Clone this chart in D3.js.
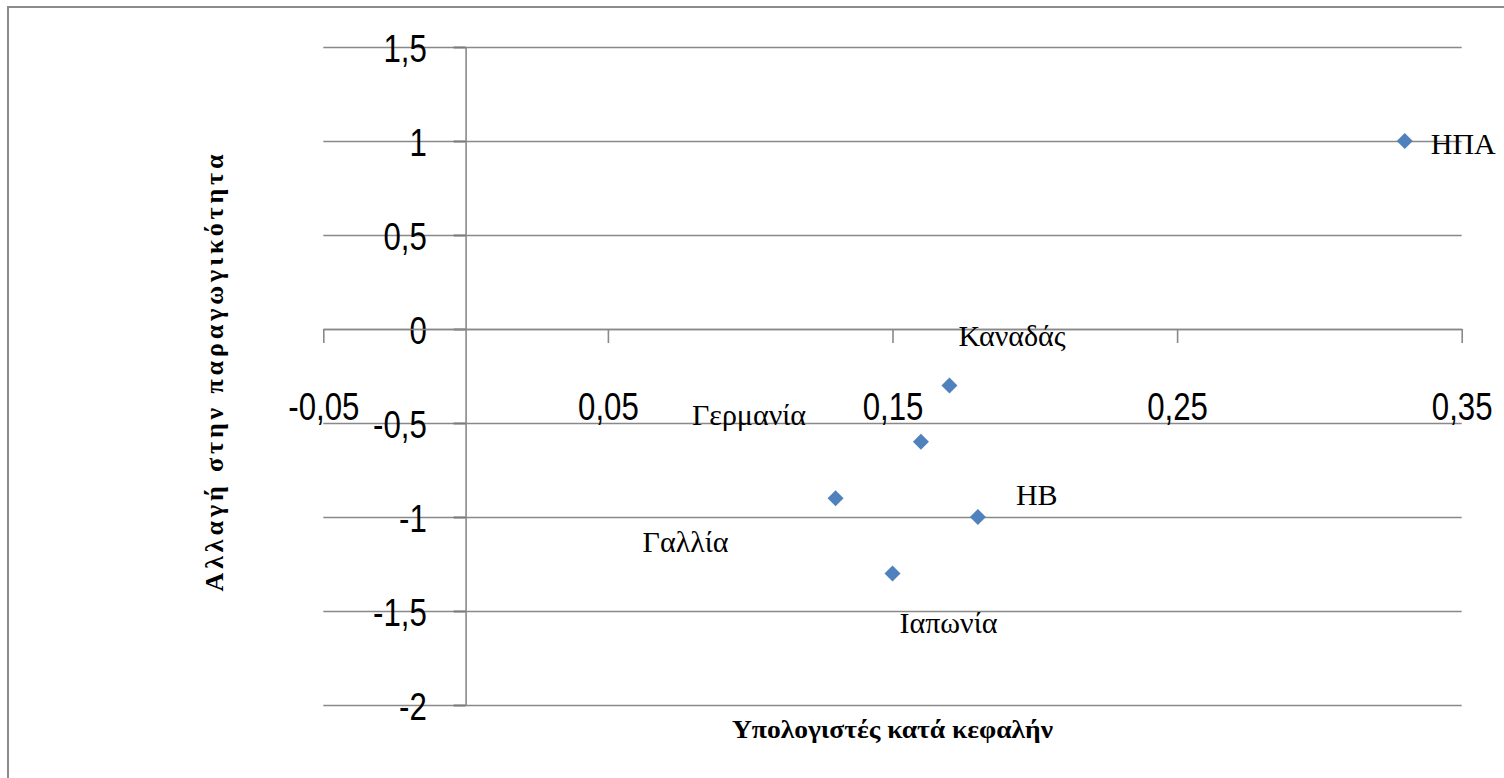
<!DOCTYPE html>
<html>
<head>
<meta charset="utf-8">
<script src="https://cdn.jsdelivr.net/npm/d3@7"></script>
<style>
  html, body { margin: 0; padding: 0; background: #fff; }
  svg { display: block; }
</style>
</head>
<body>
<svg id="chart" width="1504" height="778"></svg>
<script>
// ---- Data ----
const countries = ["ΗΠΑ", "Καναδάς", "Γερμανία", "Γαλλία", "ΗΒ", "Ιαπωνία"];
const computersPerCapita = [0.33, 0.17, 0.16, 0.13, 0.18, 0.15];
const productivityChange = [1.0, -0.3, -0.6, -0.9, -1.0, -1.3];
const xTicks = [-0.05, 0.05, 0.15, 0.25, 0.35];
const yTicks = [-2, -1.5, -1, -0.5, 0, 0.5, 1, 1.5];
const xTitle = "Υπολογιστές κατά κεφαλήν";
const yTitle = "Αλλαγή στην παραγωγικότητα";
// label offsets relative to each point (pixels)
const labelDx = [26, 9, -229, -193, 38, 7];
const labelDy = [13, -39, -17, 54, -12, 60];

// ---- Layout ----
const svg = d3.select("#chart");
const plot = { left: 323.3, right: 1461.7, top: 47, bottom: 705 };
const x = d3.scaleLinear().domain([-0.05, 0.35]).range([plot.left, plot.right]);
const y = d3.scaleLinear().domain([-2, 1.5]).range([plot.bottom, plot.top]);
const fmt = d => String(d).replace(".", ",");
const gridColor = "#898989";

// outer border (clipped by page edges on right/bottom)
svg.append("rect")
  .attr("x", 8).attr("y", 7).attr("width", 1520).attr("height", 800)
  .attr("fill", "none").attr("stroke", "#8c8c8c").attr("stroke-width", 2);

// horizontal gridlines
const grid = svg.append("g")
  .attr("transform", `translate(${plot.left},0)`)
  .call(d3.axisRight(y).tickValues(yTicks).tickSize(plot.right - plot.left).tickFormat(""));
grid.select(".domain").remove();
grid.selectAll("line").attr("stroke", gridColor).attr("stroke-width", 1.6);

// vertical axis at x = 0
const yAxis = svg.append("g")
  .attr("transform", `translate(${x(0)},0)`)
  .call(d3.axisLeft(y).tickValues(yTicks).tickSize(12).tickSizeOuter(0).tickFormat(fmt));
yAxis.select(".domain").attr("stroke", gridColor).attr("stroke-width", 1.6);
yAxis.selectAll(".tick line").attr("stroke", "#7a7a7a").attr("stroke-width", 2);
yAxis.selectAll(".tick text")
  .attr("x", 0).attr("dy", "0.36em")
  .attr("transform", "translate(-38.8,0) scale(0.8,1)")
  .attr("text-anchor", "end")
  .attr("fill", "#000")
  .style("font-family", "'Liberation Sans', Arial, sans-serif")
  .style("font-size", "39px");

// horizontal axis at y = 0
const xAxis = svg.append("g")
  .attr("transform", `translate(0,${y(0)})`)
  .call(d3.axisBottom(x).tickValues(xTicks).tickSize(14).tickSizeOuter(0).tickFormat(fmt));
xAxis.select(".domain").attr("stroke", gridColor).attr("stroke-width", 1.6);
xAxis.selectAll(".tick line").attr("stroke", gridColor).attr("stroke-width", 1.6);
xAxis.selectAll(".tick text")
  .attr("y", 0).attr("dy", "0.36em")
  .attr("transform", "translate(0,77) scale(0.8,1)")
  .attr("text-anchor", "middle")
  .attr("fill", "#000")
  .style("font-family", "'Liberation Sans', Arial, sans-serif")
  .style("font-size", "39px");

// points
const pts = countries.map((c, i) => ({ c, x: computersPerCapita[i], y: productivityChange[i], dx: labelDx[i], dy: labelDy[i] }));
svg.append("g").selectAll("path").data(pts).join("path")
  .attr("d", d3.symbol(d3.symbolSquare, 128))
  .attr("transform", d => `translate(${x(d.x)},${y(d.y)}) rotate(45)`)
  .attr("fill", "#4F81BD");

// labels
svg.append("g").selectAll("text").data(pts).join("text")
  .attr("x", d => x(d.x) + d.dx)
  .attr("y", d => y(d.y) + d.dy)
  .attr("fill", "#000")
  .style("font-family", "'Liberation Serif', 'Times New Roman', serif")
  .style("font-size", "30px")
  .text(d => d.c);

// axis titles
svg.append("text")
  .attr("x", (plot.left + plot.right) / 2).attr("y", 738)
  .attr("text-anchor", "middle")
  .attr("textLength", 321).attr("lengthAdjust", "spacingAndGlyphs")
  .style("font-family", "'Liberation Serif', 'Times New Roman', serif")
  .style("font-size", "26px").style("font-weight", "bold")
  .text(xTitle);
svg.append("text")
  .attr("transform", `translate(223,${(plot.top + plot.bottom) / 2 - 3}) rotate(-90)`)
  .attr("text-anchor", "middle")
  .attr("textLength", 437).attr("lengthAdjust", "spacing")
  .style("font-family", "'Liberation Serif', 'Times New Roman', serif")
  .style("font-size", "26px").style("font-weight", "bold")
  .text(yTitle);
</script>
</body>
</html>
